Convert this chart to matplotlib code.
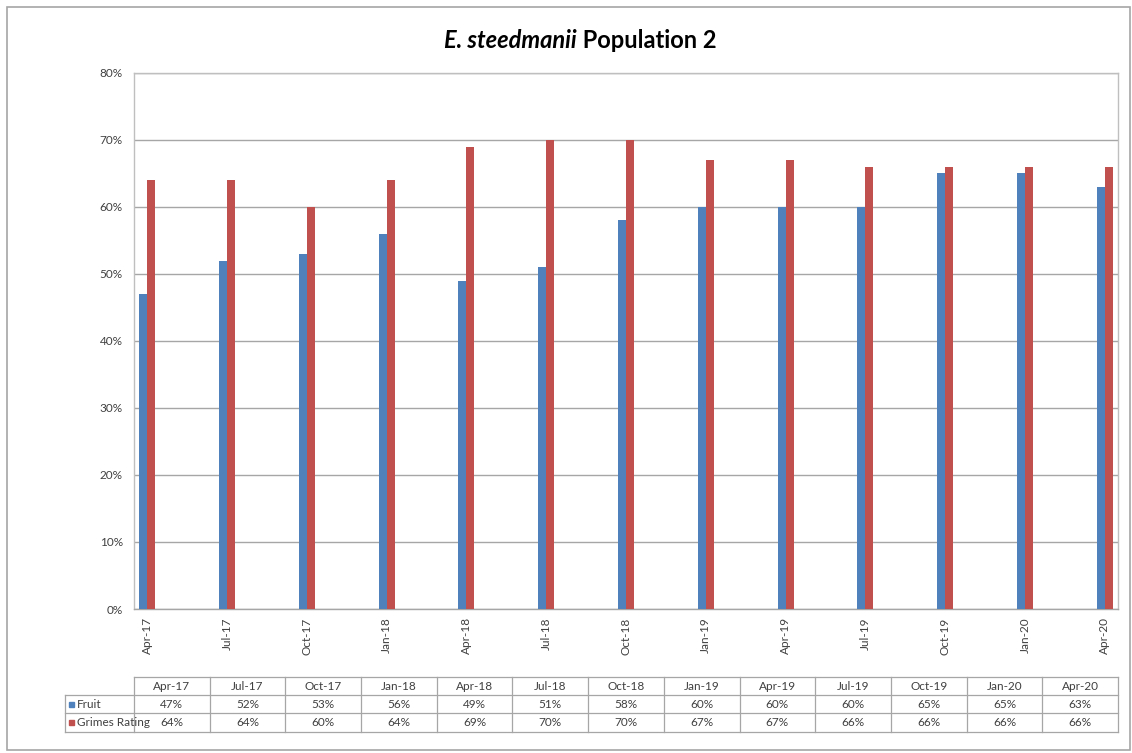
import numpy as np
import matplotlib.pyplot as plt
from matplotlib.patches import Rectangle
from matplotlib.lines import Line2D

plt.rcParams['font.family'] = ['Lato', 'DejaVu Sans']

quarters = ['Apr-17', 'Jul-17', 'Oct-17', 'Jan-18', 'Apr-18', 'Jul-18', 'Oct-18',
            'Jan-19', 'Apr-19', 'Jul-19', 'Oct-19', 'Jan-20', 'Apr-20']
fruit = [47, 52, 53, 56, 49, 51, 58, 60, 60, 60, 65, 65, 63]
grimes = [64, 64, 60, 64, 69, 70, 70, 67, 67, 66, 66, 66, 66]
series_names = ['Fruit', 'Grimes Rating']
colors = ['#4F81BD', '#C0504D']

W, H = 1132, 753
fig = plt.figure(figsize=(W / 100, H / 100), dpi=100)

def fx(px):
    return px / W

def fy(py):
    return 1 - py / H

# outer chart border
fig.add_artist(Rectangle((fx(7), fy(750)), fx(1123), 743 / H, transform=fig.transFigure,
                         fill=False, edgecolor='#A6A6A6', lw=1.2))

# --- main plot area
left, right, top, bottom = 134, 1118, 73, 609
ax = fig.add_axes([fx(left), fy(bottom), fx(right - left), (bottom - top) / H])

# date axis: months since Apr-17, one category every 3 months
months = np.arange(len(quarters)) * 3
bw = 0.3
ax.bar(months - bw / 2, fruit, width=bw, color=colors[0], zorder=3)
ax.bar(months + bw / 2, grimes, width=bw, color=colors[1], zorder=3)

ax.set_xlim(months[0] - 0.5, months[-1] + 0.5)
ax.set_ylim(0, 80)
ax.set_yticks(np.arange(0, 81, 10))
ax.set_yticklabels([f'{v}%' for v in range(0, 81, 10)], fontsize=8.5, color='#404040')
ax.set_xticks(months)
ax.set_xticklabels(quarters, rotation=90, fontsize=8.5, color='#404040')
ax.tick_params(axis='both', length=0, pad=8)
ax.tick_params(axis='x', pad=6)
ax.grid(axis='y', color='#A6A6A6', lw=1.0, zorder=0)
for s in ax.spines.values():
    s.set_color('#BFBFBF')
    s.set_linewidth(1.0)
ax.spines['bottom'].set_color('#A6A6A6')

# --- title: italic species name + regular text, both bold
title_y = fy(40)
t1 = fig.text(0, title_y, 'E. steedmanii', fontsize=17, fontweight='bold', style='italic',
              ha='left', va='center')
t2 = fig.text(0, title_y, ' Population 2', fontsize=17, fontweight='bold',
              ha='left', va='center')
fig.canvas.draw()
r = fig.canvas.get_renderer()
w1 = t1.get_window_extent(r).width / W
w2 = t2.get_window_extent(r).width / W
x0 = fx(580) - (w1 + w2) / 2
t1.set_x(x0)
t2.set_x(x0 + w1)

# --- data table under the chart
col_w = (right - left) / len(quarters)
rows_y = [677, 695, 713, 732]
label_left = 65
lc = '#A6A6A6'

def hline(x0p, x1p, yp):
    fig.add_artist(Line2D([fx(x0p), fx(x1p)], [fy(yp), fy(yp)], transform=fig.transFigure,
                          color=lc, lw=0.9))

def vline(xp, y0p, y1p):
    fig.add_artist(Line2D([fx(xp), fx(xp)], [fy(y0p), fy(y1p)], transform=fig.transFigure,
                          color=lc, lw=0.9))

hline(left, right, rows_y[0])
for yp in rows_y[1:]:
    hline(label_left, right, yp)
vline(label_left, rows_y[1], rows_y[3])
for i in range(len(quarters) + 1):
    vline(left + i * col_w, rows_y[0], rows_y[3])

for i, q in enumerate(quarters):
    cx = fx(left + (i + 0.5) * col_w)
    fig.text(cx, fy((rows_y[0] + rows_y[1]) / 2), q, fontsize=8.5, color='#404040',
             ha='center', va='center')
    for j, vals in enumerate([fruit, grimes]):
        fig.text(cx, fy((rows_y[j + 1] + rows_y[j + 2]) / 2), f'{vals[i]}%', fontsize=8.5,
                 color='#404040', ha='center', va='center')

for j, name in enumerate(series_names):
    yc = (rows_y[j + 1] + rows_y[j + 2]) / 2
    fig.add_artist(Rectangle((fx(label_left + 4), fy(yc + 2.5)), 5 / W, 5 / H,
                             transform=fig.transFigure, color=colors[j]))
    fig.text(fx(label_left + 12), fy(yc), name, fontsize=8.5, color='#404040',
             ha='left', va='center')

fig.savefig('out.png', dpi=100, facecolor='white')
